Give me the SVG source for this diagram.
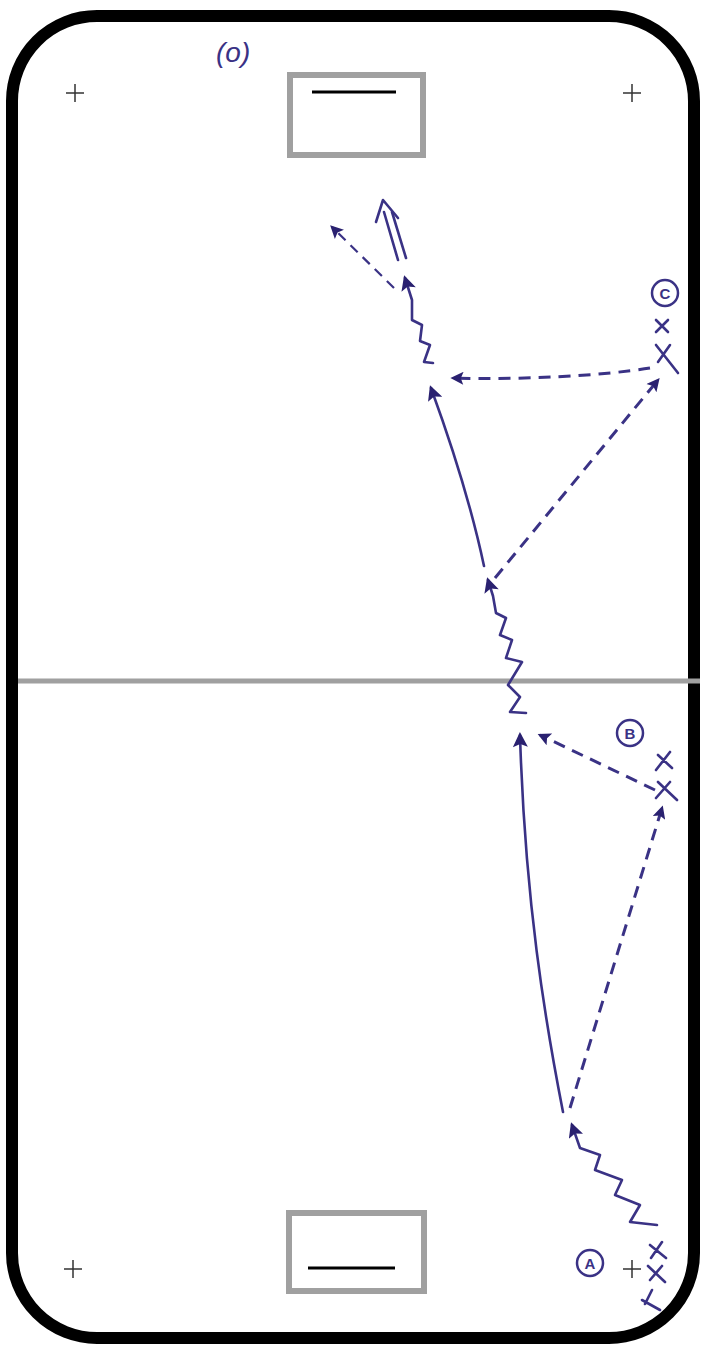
<svg xmlns="http://www.w3.org/2000/svg" width="706" height="1351" viewBox="0 0 706 1351">
<style>
.rink{fill:none;stroke:#000;stroke-width:12}
.goal{fill:#fff;stroke:#a0a0a0;stroke-width:6}
.gl{stroke:#000;stroke-width:3}
.plus{stroke:#333;stroke-width:1.5}
.ink{fill:none;stroke:#3a3285;stroke-width:2.6;stroke-linecap:round;stroke-linejoin:round}
.dash{fill:none;stroke:#3a3285;stroke-width:3;stroke-dasharray:12 8}
.lbl{font-family:"Liberation Sans",sans-serif;font-style:italic;fill:#3a3285}
.ltr{font-family:"Liberation Sans",sans-serif;font-weight:bold;fill:#3a3285;font-size:15px}
</style>
<defs>
<marker id="ah" viewBox="0 0 10 10" refX="8" refY="5" markerWidth="17" markerHeight="15" orient="auto" markerUnits="userSpaceOnUse">
<path d="M0,0 L10,5 L0,10 L2,5 Z" fill="#2a2170"/>
</marker>
<marker id="ah2" viewBox="0 0 10 10" refX="8" refY="5" markerWidth="15" markerHeight="13" orient="auto" markerUnits="userSpaceOnUse">
<path d="M0,0 L10,5 L0,10 L2,5 Z" fill="#2a2170"/>
</marker>
</defs>
<rect width="706" height="1351" fill="#fff"/>
<g id="rink">
<rect class="rink" x="12" y="16" width="682" height="1322" rx="85" ry="85"/>
<line x1="18" y1="681" x2="700" y2="681" stroke="#a0a0a0" stroke-width="5"/>
</g>
<g id="goal-top">
<rect class="goal" x="290" y="75" width="133" height="80"/>
<line class="gl" x1="312" y1="92" x2="396" y2="92"/>
</g>
<g id="goal-bottom">
<rect class="goal" x="289" y="1213" width="135" height="78"/>
<line class="gl" x1="308" y1="1268" x2="395" y2="1268"/>
</g>
<g id="dots">
<path class="plus" d="M66,93 h18 M75,84 v18 M623,93 h18 M632,84 v18 M64,1269 h18 M73,1260 v18 M623,1269 h18 M632,1260 v18"/>
</g>
<g id="label-o"><text class="lbl" x="216" y="62" font-size="28">(o)</text></g>
<g id="player-C">
<circle cx="665" cy="293" r="13" fill="none" stroke="#3a3285" stroke-width="2.5"/>
<text class="ltr" x="665" y="298.5" text-anchor="middle">C</text>
<path class="ink" d="M656,320 L668,332 M668,320 L656,332 M656,345 L678,373 M670,345 L658,362"/>
</g>
<g id="player-B">
<circle cx="630" cy="733" r="13" fill="none" stroke="#3a3285" stroke-width="2.5"/>
<text class="ltr" x="630" y="738.5" text-anchor="middle">B</text>
<path class="ink" d="M658,755 L672,768 M670,752 L656,770 M658,782 L677,800 M670,782 L656,798"/>
</g>
<g id="player-A">
<circle cx="590" cy="1263" r="13" fill="none" stroke="#3a3285" stroke-width="2.5"/>
<text class="ltr" x="590" y="1268.5" text-anchor="middle">A</text>
<path class="ink" d="M650,1245 L666,1258 M662,1242 L651,1258 M648,1266 L665,1282 M662,1266 L650,1280 M642,1300 L660,1310 M652,1290 L645,1304"/>
</g>
<g id="connectors">
<path class="ink" marker-end="url(#ah)" d="M657,1225 L630,1222 L640,1205 L615,1195 L622,1180 L595,1170 L600,1155 L580,1148 L572,1125"/>
<path class="ink" marker-end="url(#ah)" d="M563,1112 C545,1020 525,900 520,735"/>
<path class="dash" marker-end="url(#ah2)" d="M570,1108 L662,808"/>
<path class="dash" marker-end="url(#ah2)" d="M655,790 L540,735"/>
<path class="ink" marker-end="url(#ah)" d="M526,713 L510,712 L520,697 L508,685 L522,662 L506,658 L512,640 L500,635 L506,618 L496,613 L493,596 L488,580"/>
<path class="dash" marker-end="url(#ah2)" d="M495,578 L658,380"/>
<path class="ink" marker-end="url(#ah)" d="M484,566 C470,500 450,440 431,388"/>
<path class="dash" marker-end="url(#ah2)" d="M650,368 C600,376 520,380 453,378"/>
<path class="ink" marker-end="url(#ah)" d="M433,363 L424,362 L430,345 L420,341 L422,325 L412,320 L412,300 L405,278"/>
<path class="dash" marker-end="url(#ah2)" style="stroke-width:2.2;stroke-dasharray:10 7" d="M394,288 L332,227"/>
<path class="ink" d="M398,260 L384,212 M406,258 L392,212"/>
<path class="ink" d="M376,222 L383,200 L398,218"/>
</g>
</svg>
